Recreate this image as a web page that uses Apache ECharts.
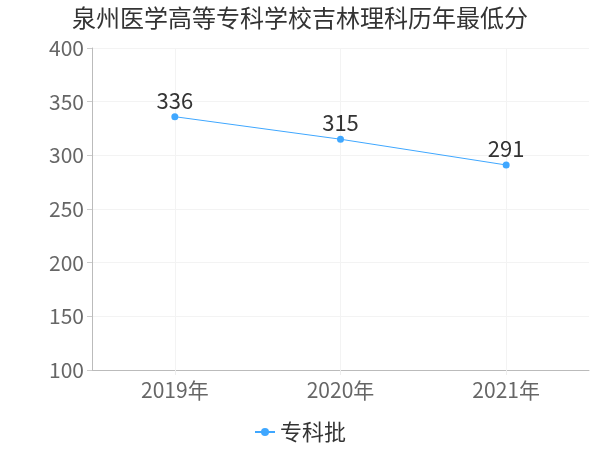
<!DOCTYPE html>
<html><head><meta charset="utf-8">
<script src="https://cdn.jsdelivr.net/npm/echarts@6/dist/echarts.min.js"></script>
<style>html,body{margin:0;padding:0;background:#fff}#c{width:600px;height:450px}</style>
</head><body><div id="c"></div>
<script>
var title = '泉州医学高等专科学校吉林理科历年最低分';
var categories = ['2019年', '2020年', '2021年'];
var seriesName = '专科批';
var values = [336, 315, 291];
var yMin = 100, yMax = 400, yStep = 50;

var chart = echarts.init(document.getElementById('c'));
chart.setOption({
  animation: false,
  title: {text: title, left: 'center', top: 1, textStyle: {fontSize: 24, fontWeight: 'normal', color: '#333', fontFamily: 'Noto Sans CJK SC'}},
  grid: {left: 92, right: 11, top: 48, bottom: 80},
  legend: {bottom: 2, itemWidth: 20, itemHeight: 10, textStyle: {fontSize: 22, color: '#333', fontFamily: 'Noto Sans CJK SC'}, data: [seriesName]},
  xAxis: {
    type: 'category', data: categories, boundaryGap: true,
    axisLine: {lineStyle: {color: '#bbb'}},
    axisTick: {show: true, alignWithLabel: true, lineStyle: {color: '#eee'}},
    axisLabel: {fontSize: 21, color: '#666', margin: 10, fontFamily: 'Noto Sans CJK SC'},
    splitLine: {show: true, alignWithLabel: true, lineStyle: {color: '#f3f3f3'}}
  },
  yAxis: {
    type: 'value', min: yMin, max: yMax, interval: yStep,
    axisLine: {show: true, lineStyle: {color: '#bbb'}},
    axisTick: {show: true, lineStyle: {color: '#ccc'}},
    axisLabel: {fontSize: 21, color: '#666', margin: 8, fontFamily: 'Noto Sans CJK SC'},
    splitLine: {show: true, lineStyle: {color: '#f3f3f3'}}
  },
  series: [{
    name: seriesName, type: 'line', data: values,
    symbol: 'circle', symbolSize: 7,
    itemStyle: {color: '#3fa7ff'},
    lineStyle: {color: '#3fa7ff', width: 1},
    label: {show: true, position: 'top', fontSize: 22, color: '#333', distance: 2, fontFamily: 'Noto Sans CJK SC'}
  }]
});
</script></body></html>
